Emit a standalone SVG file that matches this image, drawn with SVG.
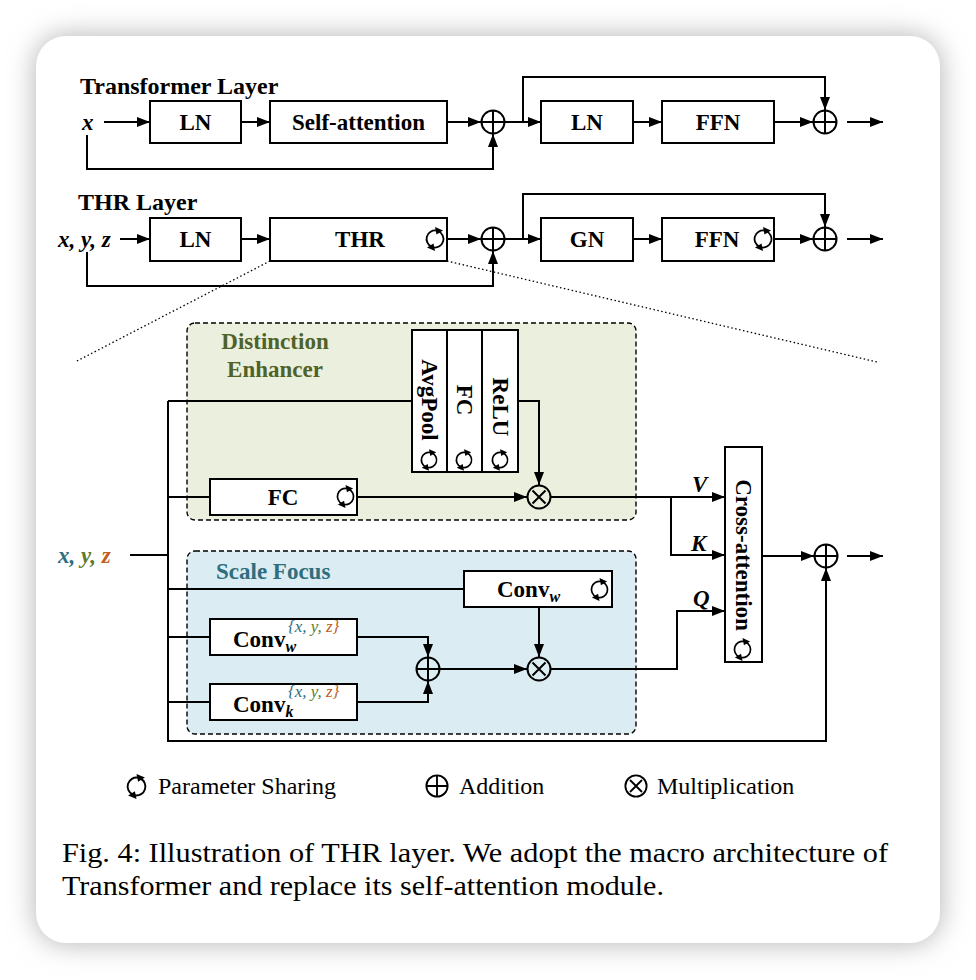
<svg xmlns="http://www.w3.org/2000/svg" xmlns:xlink="http://www.w3.org/1999/xlink" width="976" height="980" viewBox="0 0 976 980">
<defs>
  <filter id="shadow" x="-10%" y="-10%" width="120%" height="120%">
    <feGaussianBlur stdDeviation="14"/>
  </filter>
  <marker id="ah" markerUnits="userSpaceOnUse" markerWidth="13" markerHeight="10" refX="13" refY="5" orient="auto">
    <path d="M0,0 L13,5 L0,10 z" fill="#000"/>
  </marker>
  <symbol id="plus" viewBox="-13 -13 26 26" overflow="visible">
    <circle r="11.5" fill="none" stroke="#000" stroke-width="2"/>
    <path d="M-11.5,0 H11.5 M0,-11.5 V11.5" stroke="#000" stroke-width="2"/>
  </symbol>
  <symbol id="times" viewBox="-13 -13 26 26" overflow="visible">
    <circle r="11.5" fill="none" stroke="#000" stroke-width="2"/>
    <path d="M-6.5,-6.5 L6.5,6.5 M6.5,-6.5 L-6.5,6.5" stroke="#000" stroke-width="2"/>
  </symbol>
  <symbol id="share" viewBox="-10 -10 20 20" overflow="visible">
    <path d="M1.5,-8.4 A8.5 8.5 0 0 0 -3.5,7.7" fill="none" stroke="#000" stroke-width="1.8"/>
    <path d="M-1.5,8.4 A8.5 8.5 0 0 0 3.5,-7.7" fill="none" stroke="#000" stroke-width="1.8"/>
    <path d="M8,-8.5 L0,-12 L1.5,-4.5 z" fill="#000"/>
    <path d="M-8,8.5 L0,12 L-1.5,4.5 z" fill="#000"/>
  </symbol>
  <style>
    .box { fill: #fff; stroke: #000; stroke-width: 2; }
    .ln { fill: none; stroke: #000; stroke-width: 2; }
    .arr { fill: none; stroke: #000; stroke-width: 2; marker-end: url(#ah); }
    .dot { fill: none; stroke: #000; stroke-width: 1.3; stroke-dasharray: 1.5 2.5; }
    .lbl { font-family: "Liberation Serif", "Times New Roman", serif; font-weight: bold; font-size: 23px; text-anchor: middle; fill: #000; }
    .ttl { font-family: "Liberation Serif", "Times New Roman", serif; font-weight: bold; font-size: 23px; fill: #000; }
    .var { font-family: "Liberation Serif", "Times New Roman", serif; font-weight: bold; font-style: italic; font-size: 23px; fill: #000; }
    .sup { font-family: "Liberation Serif", "Times New Roman", serif; font-style: italic; font-size: 17px; }
    .reg { font-family: "Liberation Serif", "Times New Roman", serif; font-size: 24px; fill: #000; }
    .cap { font-family: "Liberation Serif", "Times New Roman", serif; font-size: 28px; fill: #000; }
    .rot { font-family: "Liberation Serif", "Times New Roman", serif; font-weight: bold; font-size: 23px; text-anchor: middle; dominant-baseline: central; fill: #000; }
    .cx { fill: #2e6e80; }
    .cy { fill: #5f7a2a; }
    .cz { fill: #c0601e; }
  </style>
</defs>

<rect width="976" height="980" fill="#fff"/>
<rect x="36" y="36" width="904" height="907" rx="30" fill="#b0b0b0" filter="url(#shadow)"/>
<rect x="36" y="36" width="904" height="907" rx="30" fill="#fff"/>

<!-- Dashed region backgrounds -->
<g id="distinction-enhancer">
  <rect x="187" y="323" width="449" height="197" rx="8" fill="#ebf0de" stroke="#000" stroke-width="1.4" stroke-dasharray="5 3"/>
  <text class="ttl" x="275" y="349" text-anchor="middle" style="fill:#4f6228">Distinction</text>
  <text class="ttl" x="275" y="377" text-anchor="middle" style="fill:#4f6228">Enhancer</text>
</g>
<g id="scale-focus">
  <rect x="187" y="551" width="449" height="183" rx="8" fill="#dbedf2" stroke="#000" stroke-width="1.4" stroke-dasharray="5 3"/>
  <text class="ttl" x="216" y="579" style="fill:#2e6e80">Scale Focus</text>
</g>

<!-- Titles -->
<text class="ttl" x="80" y="94" style="font-size:24px">Transformer Layer</text>
<text class="ttl" x="78" y="210" style="font-size:24px">THR Layer</text>

<!-- Connectors -->
<g id="connectors">
  <!-- row 1 -->
  <path class="arr" d="M104,122 H150"/>
  <path class="arr" d="M241,122 H270"/>
  <path class="arr" d="M447,122 H481"/>
  <path class="arr" d="M87,135 V169 H493 V134"/>
  <path class="arr" d="M505,122 H541"/>
  <path class="arr" d="M523,122 V77 H825 V110"/>
  <path class="arr" d="M633,122 H662"/>
  <path class="arr" d="M774,122 H813"/>
  <path class="arr" d="M847,122 H883"/>
  <!-- row 2 -->
  <path class="arr" d="M120,239 H150"/>
  <path class="arr" d="M241,239 H270"/>
  <path class="arr" d="M447,239 H481"/>
  <path class="arr" d="M87,252 V286 H493 V251"/>
  <path class="arr" d="M505,239 H541"/>
  <path class="arr" d="M523,239 V194 H825 V227"/>
  <path class="arr" d="M633,239 H662"/>
  <path class="arr" d="M774,239 H813"/>
  <path class="arr" d="M847,239 H883"/>
  <!-- zoom dotted lines -->
  <path class="dot" d="M270,261 L75,362"/>
  <path class="dot" d="M447,261 L877,362"/>
  <!-- detail -->
  <path class="ln" d="M130,555 H168"/>
  <path class="arr" d="M168,401 V741 H826 V568"/>
  <path class="ln" d="M168,401 H412"/>
  <path class="arr" d="M518,401 H539 V485"/>
  <path class="ln" d="M168,497 H210"/>
  <path class="arr" d="M357,497 H527"/>
  <path class="arr" d="M551,497 H725"/>
  <path class="arr" d="M671,497 V555 H725"/>
  <path class="arr" d="M762,556 H814"/>
  <path class="arr" d="M847,556 H883"/>
  <path class="ln" d="M168,589 H464"/>
  <path class="arr" d="M539,607 V657"/>
  <path class="ln" d="M168,637 H210"/>
  <path class="ln" d="M168,702 H210"/>
  <path class="arr" d="M357,637 H428 V657"/>
  <path class="arr" d="M357,702 H428 V681"/>
  <path class="arr" d="M440,669 H527"/>
  <path class="arr" d="M551,669 H677 V611 H725"/>
</g>

<!-- Row 1 nodes -->
<g id="t-x"><text class="var" x="82" y="130">x</text></g>
<g id="t-ln1"><rect class="box" x="150" y="101" width="91" height="42"/><text class="lbl" x="195.5" y="130">LN</text></g>
<g id="t-sa"><rect class="box" x="270" y="101" width="177" height="42"/><text class="lbl" x="358.5" y="130">Self-attention</text></g>
<g id="t-add1"><use href="#plus" x="480" y="109" width="26" height="26"/></g>
<g id="t-ln2"><rect class="box" x="541" y="101" width="92" height="42"/><text class="lbl" x="587" y="130">LN</text></g>
<g id="t-ffn"><rect class="box" x="662" y="101" width="112" height="42"/><text class="lbl" x="718" y="130">FFN</text></g>
<g id="t-add2"><use href="#plus" x="812" y="109" width="26" height="26"/></g>

<!-- Row 2 nodes -->
<g id="h-xyz"><text class="var" x="58" y="247">x, y, z</text></g>
<g id="h-ln"><rect class="box" x="150" y="218" width="91" height="43"/><text class="lbl" x="195.5" y="247">LN</text></g>
<g id="h-thr"><rect class="box" x="270" y="218" width="177" height="43"/><text class="lbl" x="360" y="247">THR</text><use href="#share" x="425" y="229" width="20" height="20"/></g>
<g id="h-add1"><use href="#plus" x="480" y="226" width="26" height="26"/></g>
<g id="h-gn"><rect class="box" x="541" y="218" width="92" height="43"/><text class="lbl" x="587" y="247">GN</text></g>
<g id="h-ffn"><rect class="box" x="662" y="218" width="112" height="43"/><text class="lbl" x="717" y="247">FFN</text><use href="#share" x="753" y="229" width="20" height="20"/></g>
<g id="h-add2"><use href="#plus" x="812" y="226" width="26" height="26"/></g>

<!-- Detail nodes -->
<g id="d-xyz"><text class="var" x="58" y="563"><tspan class="cx">x</tspan><tspan class="cx">, </tspan><tspan class="cy">y</tspan><tspan class="cy">, </tspan><tspan class="cz">z</tspan></text></g>

<g id="d-avgpool"><rect class="box" x="412" y="330" width="35" height="142"/><text class="rot" transform="translate(429.5,400) rotate(90)">AvgPool</text><use href="#share" x="420" y="451" width="18" height="18"/></g>
<g id="d-fc1"><rect class="box" x="447" y="330" width="35" height="142"/><text class="rot" transform="translate(464.5,400) rotate(90)">FC</text><use href="#share" x="455" y="451" width="18" height="18"/></g>
<g id="d-relu"><rect class="box" x="482" y="330" width="36" height="142"/><text class="rot" transform="translate(500,407) rotate(90)">ReLU</text><use href="#share" x="491" y="451" width="18" height="18"/></g>

<g id="d-fc2"><rect class="box" x="210" y="479" width="147" height="36"/><text class="lbl" x="283" y="505">FC</text><use href="#share" x="336" y="487" width="19" height="19"/></g>
<g id="d-mul1"><use href="#times" x="526" y="484" width="26" height="26"/></g>

<g id="d-cross"><rect class="box" x="725" y="447" width="37" height="215"/><text class="rot" transform="translate(743.5,555) rotate(90)">Cross-attention</text><use href="#share" x="733" y="640" width="19" height="19"/></g>
<text class="var" x="692" y="492">V</text>
<text class="var" x="691" y="551">K</text>
<text class="var" x="693" y="606">Q</text>
<g id="d-add-out"><use href="#plus" x="813" y="543" width="26" height="26"/></g>

<g id="d-convw"><rect class="box" x="464" y="571" width="148" height="36"/><text x="497" y="597"><tspan class="ttl">Conv</tspan><tspan class="var" style="font-size:16px" dy="5">w</tspan></text><use href="#share" x="590" y="580" width="19" height="19"/></g>
<g id="d-convw-xyz"><rect class="box" x="210" y="619" width="147" height="36"/><text x="233" y="647"><tspan class="ttl">Conv</tspan><tspan class="var" style="font-size:16px" dy="5">w</tspan></text><text class="sup" x="288" y="632"><tspan class="cx">{x, </tspan><tspan class="cy">y, </tspan><tspan class="cz">z}</tspan></text></g>
<g id="d-convk-xyz"><rect class="box" x="210" y="684" width="147" height="36"/><text x="233" y="712"><tspan class="ttl">Conv</tspan><tspan class="var" style="font-size:16px" dy="5">k</tspan></text><text class="sup" x="288" y="697"><tspan class="cx">{x, </tspan><tspan class="cy">y, </tspan><tspan class="cz">z}</tspan></text></g>
<g id="d-add2"><use href="#plus" x="415" y="656" width="26" height="26"/></g>
<g id="d-mul2"><use href="#times" x="526" y="656" width="26" height="26"/></g>

<!-- Legend -->
<g id="legend">
  <use href="#share" x="126" y="776" width="21" height="21"/>
  <text class="reg" x="158" y="794">Parameter Sharing</text>
  <use href="#plus" x="425" y="774" width="24" height="24"/>
  <text class="reg" x="459" y="794">Addition</text>
  <use href="#times" x="624" y="774" width="24" height="24"/>
  <text class="reg" x="657" y="794">Multiplication</text>
</g>

<!-- Caption -->
<text class="cap" x="62" y="862" textLength="826" lengthAdjust="spacingAndGlyphs">Fig. 4: Illustration of THR layer. We adopt the macro architecture of</text>
<text class="cap" x="62" y="895" textLength="602" lengthAdjust="spacingAndGlyphs">Transformer and replace its self-attention module.</text>
</svg>
